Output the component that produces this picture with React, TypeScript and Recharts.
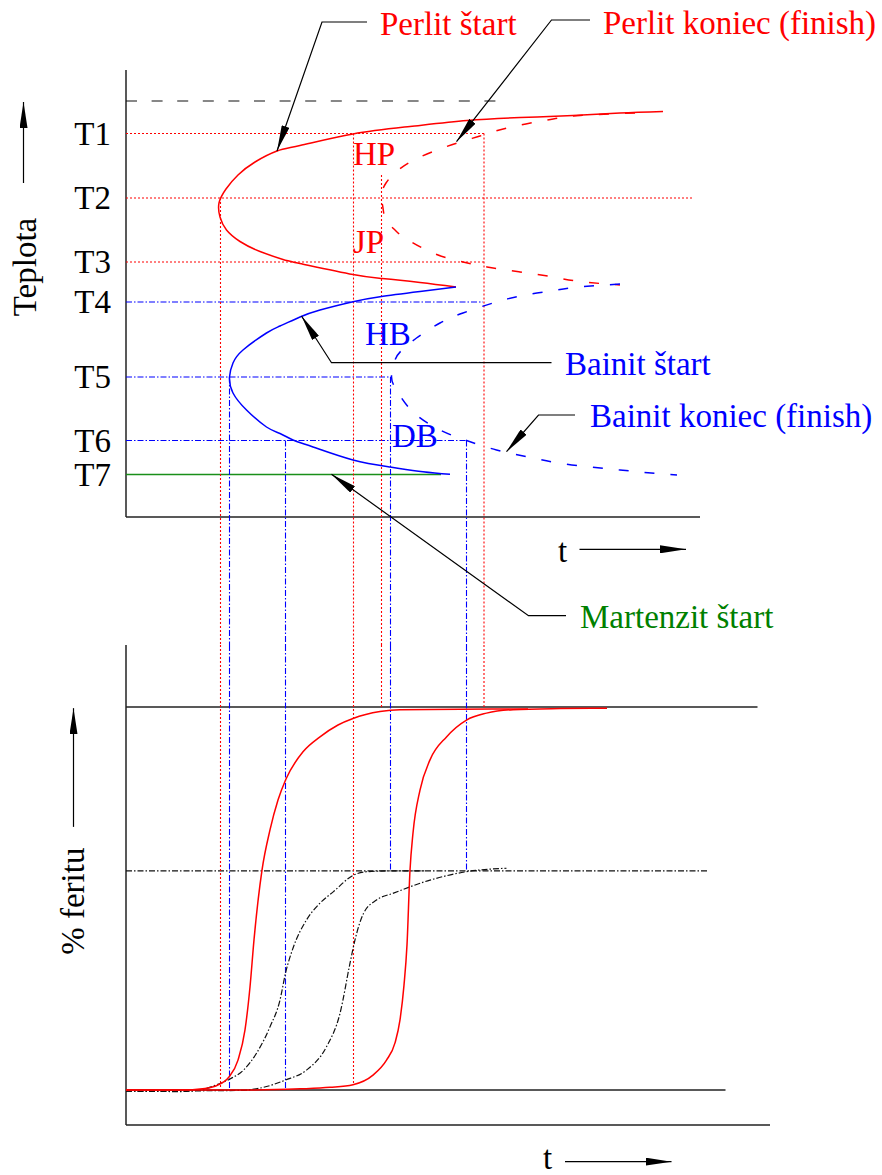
import React from 'react';
import { ComposedChart, Line, XAxis, YAxis, ReferenceLine, ReferenceDot, Customized } from 'recharts';

// ---------------- data ----------------
// time t in arbitrary units, temperature in °C-like units, ferrite in %
const levelNames = ['T1', 'T2', 'T3', 'T4', 'T5', 'T6', 'T7'];
const levelTemps = [767, 638, 510, 430, 280, 153, 85];
const levelEndTimes = [71.6, 113.4, 71.6, 71.4, 53.0, 68.0, 63.0];
const levelKinds = ['red', 'red', 'red', 'blue', 'blue', 'blue', 'green'];
const a1Temp = 832;
const a1EndTime = 76.4;

const perlitStart = [
  [107.4, 811], [98.8, 808], [89.4, 803], [78.8, 799], [68.2, 793], [56.8, 781], [45.4, 766],
  [34.8, 743], [30.2, 732], [25.8, 710], [22.4, 684], [20.0, 656], [18.6, 628], [18.8, 600],
  [20.1, 574], [22.8, 551], [26.8, 531], [31.4, 515], [34.8, 507], [45.4, 485], [51.2, 477],
  [58.8, 469], [66.0, 460],
];
const perlitFinish = [
  [101.8, 808], [90.8, 803], [84.2, 794], [76.2, 778], [70.8, 762], [66.2, 748], [58.8, 720],
  [54.2, 692], [52.0, 668], [51.1, 644], [51.4, 618], [52.0, 594], [53.8, 574], [55.8, 558],
  [61.4, 528], [67.4, 510], [72.2, 500], [78.8, 490], [85.4, 480], [90.8, 471], [98.8, 464],
];
const bainitStart = [
  [66.0, 460], [58.8, 451], [50.8, 440.6], [45.4, 430.6], [38.8, 414], [34.8, 400], [30.8, 382],
  [28.1, 368], [23.4, 334], [21.4, 308], [20.7, 280], [21.4, 248], [24.1, 214], [28.1, 180],
  [30.8, 167], [33.4, 154], [37.4, 140], [45.4, 114], [52.8, 100], [59.4, 90.6], [64.8, 85.4],
];
const bainitFinish = [
  [98.8, 466], [90.8, 460], [84.8, 452], [78.8, 442], [73.4, 428], [67.4, 408], [62.8, 388],
  [58.1, 358], [55.2, 334], [53.8, 314], [53.1, 280.6], [54.1, 254], [57.4, 210], [62.8, 174],
  [67.8, 154], [74.1, 134], [80.1, 120.6], [86.1, 108.6], [92.8, 100], [98.8, 94], [104.4, 88.6],
  [110.2, 84],
];

const redConnTimes = [18.9, 45.5, 51.1, 71.6];
const redConnFromTemp = [638, 767, 684, 767];
const redConnToFerrite = [0, 1.3, 100, 100];
const blueConnTimes = [20.7, 31.9, 52.9, 68.1];
const blueConnFromTemp = [280, 153, 280, 153];
const blueConnToFerrite = [0, 0, 57.2, 57.2];

const ferriteT2 = [
  [0, 0], [10.8, 0], [15.8, 0.4], [17.8, 1.0], [20.6, 3.4], [22.4, 7.8], [23.8, 15.7], [24.8, 26.9],
  [25.6, 39.2], [27.2, 57.4], [28.8, 67.9], [30.4, 75.7], [32.0, 81.2], [35.4, 88.3], [38.8, 92.2],
  [42.4, 95.3], [45.4, 97.0], [50.8, 98.8], [54.8, 99.3], [80.4, 99.5],
];
const ferriteT1 = [
  [0, 0], [24.8, 0], [34.8, 0.3], [40.8, 0.7], [45.4, 1.4], [49.4, 3.9], [52.1, 7.8], [53.8, 12.3],
  [54.8, 18.3], [55.6, 27.4], [56.2, 37.9], [56.8, 57.4], [57.4, 67.1], [58.8, 78.3], [60.8, 86.2],
  [64.1, 92.2], [68.1, 96.6], [72.1, 98.4], [77.4, 99.3], [86.8, 99.6], [96.2, 99.7],
];
const ferriteT5 = [
  [0, -0.3], [10.8, -0.4], [14.8, 0], [17.8, 1.2], [20.8, 2.9], [23.5, 5.2], [26.1, 9.6], [28.8, 16.5],
  [30.8, 23.5], [31.9, 30.5], [33.5, 37.4], [36.1, 44.4], [38.8, 48.8], [41.5, 51.8], [45.5, 56.1],
  [48.1, 57.0], [52.8, 57.2], [60.0, 57.2],
];
const ferriteT6 = [
  [0, -0.3], [22.8, -0.1], [26.8, 0.5], [31.9, 2.6], [36.1, 5.2], [40.1, 11.3], [42.8, 20.0],
  [44.8, 33.1], [45.8, 39.2], [47.5, 46.1], [50.1, 49.6], [53.5, 51.4], [60.8, 54.8], [68.1, 57.0],
  [76.1, 57.9],
];
const bainiteLevel = 57.2;

// ---------------- layout (data units) ----------------
const W = 882;
const TOP_H = 645;
const BOT_H = 530;
const X_DOMAIN = [-25.2, 151.2];
const TEMP_DOMAIN = [-256, 1034];
const FER_DOMAIN = [-22.19, 116.19];
const TEMP_AXIS_TOP = 894;
const TOP_AXIS_END = 114.8;
const FER_AXIS_BOTTOM = -9.14;
const BOT_AXIS_END = 128.8;
const FULL_LINE_END = 126.3;
const ZERO_LINE_END = 119.9;
const BAINITE_LINE_END = 116.5;

const calloutPerlitStart = [[48.2, 990], [39.2, 990], [30.2, 732]];
const calloutPerlitFinish = [[92.8, 994], [85.1, 994], [66.1, 750.6]];
const calloutBainitStart = [[85.1, 308.6], [41.1, 308.6], [35.1, 402]];
const calloutBainitFinish = [[89.8, 204], [82.5, 204], [76.1, 130.6]];
const calloutMartensite = [[88.0, -197.4], [80.5, -197.4], [41.1, 85.4]];
const arrowTemp = [[-20.5, 668], [-20.5, 830]];
const arrowTimeTop = [[90.7, -64.6], [112, -64.6]];
const arrowFerrite = [[-10.5, 68.7], [-10.5, 99.7]];
const arrowTimeBottom = [[87.8, -18.7], [109.1, -18.7]];

const FONT = '"Liberation Serif", "Times New Roman", Times, serif';
const FS = 33;
const RED = '#ff0000';
const BLUE = '#0000ff';
const GREEN_LINE = '#1a8f1a';
const GREEN_TEXT = '#008000';
const AXIS = '#222222';
const DOTTED = '2 2';
const DASHDOT = '6 2 1.5 2';
const DASHED = '10 16';

const pts = (arr: number[][]) => arr.map(([t, v]) => ({ t, v }));

const ArrowDefs = (id: string) => () => (
  <defs>
    <marker id={id} viewBox="0 0 26 8" refX="26" refY="4" markerWidth="26" markerHeight="8"
      markerUnits="userSpaceOnUse" orient="auto">
      <path d="M0,0 L26,4 L0,8 Z" fill="#000" />
    </marker>
  </defs>
);

const series = (key: string, arr: number[][], color: string, opts: any = {}) => (
  <Line
    key={key}
    data={pts(arr)}
    dataKey="v"
    stroke={color}
    strokeWidth={opts.width ?? 1.5}
    strokeDasharray={opts.dash}
    type={opts.type ?? 'natural'}
    dot={false}
    activeDot={false}
    isAnimationActive={false}
    markerEnd={opts.marker ? `url(#${opts.marker})` : undefined}
    legendType="none"
  />
);

const seg = (key: string, x1: number, y1: number, x2: number, y2: number, color: string, width: number, dash?: string) => (
  <ReferenceLine
    key={key}
    segment={[{ x: x1, y: y1 }, { x: x2, y: y2 }]}
    stroke={color}
    strokeWidth={width}
    strokeDasharray={dash}
    ifOverflow="visible"
  />
);

const label = (key: string, x: number, y: number, text: string, color: string, opts: any = {}) => (
  <ReferenceDot
    key={key}
    x={x}
    y={y}
    r={0}
    ifOverflow="visible"
    isFront
    shape={(p: any) => (
      <text
        x={p.cx}
        y={p.cy}
        dy={opts.dy ?? 0}
        fill={color}
        fontFamily={FONT}
        fontSize={FS}
        textAnchor={opts.anchor ?? 'start'}
        transform={opts.rotate ? `rotate(-90 ${p.cx} ${p.cy})` : undefined}
      >
        {text}
      </text>
    )}
  />
);

const levelStyle = (kind: string) =>
  kind === 'red' ? { c: RED, d: DOTTED, w: 1.1 } : kind === 'blue' ? { c: BLUE, d: DASHDOT, w: 1.1 } : { c: GREEN_LINE, d: undefined, w: 1.5 };

function TopChart() {
  return (
    <ComposedChart width={W} height={TOP_H} margin={{ top: 0, right: 0, bottom: 0, left: 0 }}>
      <Customized component={ArrowDefs('arrTop')} />
      <XAxis type="number" dataKey="t" domain={X_DOMAIN} allowDataOverflow hide />
      <YAxis type="number" domain={TEMP_DOMAIN} allowDataOverflow hide />
      {seg('ax1', 0, TEMP_AXIS_TOP, 0, 0, AXIS, 1.5)}
      {seg('ax2', 0, 0, TOP_AXIS_END, 0, AXIS, 1.5)}
      {seg('a1', 0, a1Temp, a1EndTime, a1Temp, '#111', 1.2, '11 14.6')}
      {levelTemps.map((T, i) => {
        const s = levelStyle(levelKinds[i]);
        return seg(`lv${i}`, 0, T, levelEndTimes[i], T, s.c, s.w, s.d);
      })}
      {redConnTimes.map((t, i) => seg(`rc${i}`, t, redConnFromTemp[i], t, TEMP_DOMAIN[0], RED, 1.1, DOTTED))}
      {blueConnTimes.map((t, i) => seg(`bc${i}`, t, blueConnFromTemp[i], t, TEMP_DOMAIN[0], BLUE, 1.1, DASHDOT))}
      {series('ps', perlitStart, RED)}
      {series('pf', perlitFinish, RED, { dash: DASHED })}
      {series('bs', bainitStart, BLUE)}
      {series('bf', bainitFinish, BLUE, { dash: DASHED })}
      {series('c1', calloutPerlitStart, '#000', { type: 'linear', width: 1.2, marker: 'arrTop' })}
      {series('c2', calloutPerlitFinish, '#000', { type: 'linear', width: 1.2, marker: 'arrTop' })}
      {series('c3', calloutBainitStart, '#000', { type: 'linear', width: 1.2, marker: 'arrTop' })}
      {series('c4', calloutBainitFinish, '#000', { type: 'linear', width: 1.2, marker: 'arrTop' })}
      {series('c5', calloutMartensite, '#000', { type: 'linear', width: 1.2, marker: 'arrTop' })}
      {series('ar1', arrowTemp, '#000', { type: 'linear', width: 1.2, marker: 'arrTop' })}
      {series('ar2', arrowTimeTop, '#000', { type: 'linear', width: 1.2, marker: 'arrTop' })}
      {levelNames.map((n, i) => label(`ln${i}`, -3, levelTemps[i], n, '#000', { anchor: 'end', dy: 11 }))}
      {label('tx1', 50.8, 964, 'Perlit štart', RED)}
      {label('tx2', 95.4, 966, 'Perlit koniec (finish)', RED)}
      {label('tx3', 45.4, 704, 'HP', RED)}
      {label('tx4', 45.4, 528, 'JP', RED)}
      {label('tx5', 47.8, 344, 'HB', BLUE)}
      {label('tx6', 53.2, 140, 'DB', BLUE)}
      {label('tx7', 87.8, 284, 'Bainit štart', BLUE)}
      {label('tx8', 92.8, 180, 'Bainit koniec (finish)', BLUE)}
      {label('tx9', 90.8, -222, 'Martenzit štart', GREEN_TEXT)}
      {label('tx10', 86.4, -89.4, 't', '#000')}
      {label('tx11', -18, 500, 'Teplota', '#000', { anchor: 'middle', rotate: true })}
    </ComposedChart>
  );
}

function BottomChart() {
  return (
    <ComposedChart width={W} height={BOT_H} margin={{ top: 0, right: 0, bottom: 0, left: 0 }}>
      <Customized component={ArrowDefs('arrBot')} />
      <XAxis type="number" dataKey="t" domain={X_DOMAIN} allowDataOverflow hide />
      <YAxis type="number" domain={FER_DOMAIN} allowDataOverflow hide />
      {seg('ax1', 0, FER_DOMAIN[1], 0, FER_AXIS_BOTTOM, AXIS, 1.5)}
      {seg('ax2', 0, FER_AXIS_BOTTOM, BOT_AXIS_END, FER_AXIS_BOTTOM, AXIS, 1.5)}
      {seg('l100', 0, 100, FULL_LINE_END, 100, AXIS, 1.5)}
      {seg('l0', 0, 0, ZERO_LINE_END, 0, AXIS, 1.5)}
      {seg('lb', 0, bainiteLevel, BAINITE_LINE_END, bainiteLevel, '#111', 1.2, DASHDOT)}
      {redConnTimes.map((t, i) => seg(`rc${i}`, t, FER_DOMAIN[1], t, redConnToFerrite[i], RED, 1.1, DOTTED))}
      {blueConnTimes.map((t, i) => seg(`bc${i}`, t, FER_DOMAIN[1], t, blueConnToFerrite[i], BLUE, 1.1, DASHDOT))}
      {series('f5', ferriteT5, '#111', { type: 'monotone', width: 1.2, dash: DASHDOT })}
      {series('f6', ferriteT6, '#111', { type: 'monotone', width: 1.2, dash: DASHDOT })}
      {series('f2', ferriteT2, RED, { type: 'monotone' })}
      {series('f1', ferriteT1, RED, { type: 'monotone' })}
      {series('ar1', arrowFerrite, '#000', { type: 'linear', width: 1.2, marker: 'arrBot' })}
      {series('ar2', arrowTimeBottom, '#000', { type: 'linear', width: 1.2, marker: 'arrBot' })}
      {label('tb1', -8.4, 49.3, '% feritu', '#000', { anchor: 'middle', rotate: true })}
      {label('tb2', 83.4, -20.6, 't', '#000')}
    </ComposedChart>
  );
}

export default function App() {
  return (
    <div style={{ position: 'absolute', left: 0, top: 0, width: W, height: TOP_H + BOT_H, background: '#fff' }}>
      <div style={{ position: 'absolute', left: 0, top: 0 }}>
        <TopChart />
      </div>
      <div style={{ position: 'absolute', left: 0, top: TOP_H }}>
        <BottomChart />
      </div>
    </div>
  );
}
